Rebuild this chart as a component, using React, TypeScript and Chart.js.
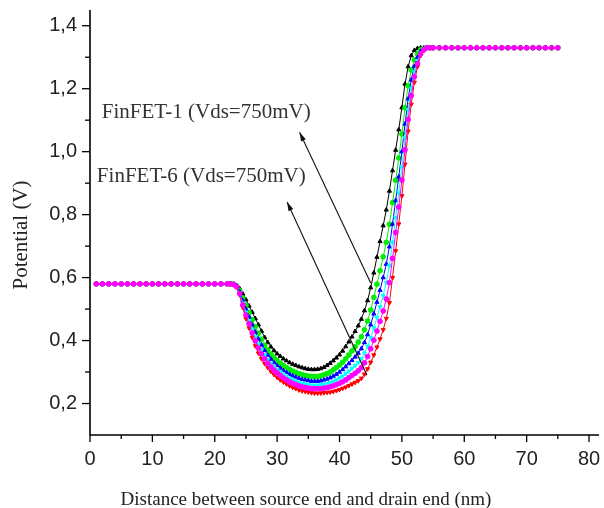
import React, { useEffect, useRef } from "react";
import { Chart, registerables } from "chart.js";

Chart.register(...registerables);

// ---------- data ----------
const seriesNames = ["FinFET-1", "FinFET-2", "FinFET-3", "FinFET-4", "FinFET-5", "FinFET-6"];
const seriesColors = ["#000000", "#00ee00", "#0000ff", "#00ffff", "#ff00ff", "#ff0000"];
const seriesMarkers = ["triangle", "circle", "triangle", "triangle", "circle", "triangle"];
const seriesMarkerRotation = [0, 0, 0, 180, 0, 180];
const seriesDrawOrder = [5, 4, 3, 2, 0, 1];

// distance (nm) – source plateau, channel well, drain plateau
const sourceX = [1, 2, 3, 4, 5, 6, 7, 8, 9, 10, 11, 12, 13, 14, 15, 16, 17, 18, 19, 20, 21, 22];
const wellX = [
  22.5, 23, 23.5, 24, 24.5, 25, 25.5, 26, 26.5, 27,
  27.5, 28, 28.5, 29, 29.5, 30, 30.5, 31, 31.5, 32,
  32.5, 33, 33.5, 34, 34.5, 35, 35.5, 36, 36.5, 37,
  37.5, 38, 38.5, 39, 39.5, 40, 40.5, 41, 41.5, 42,
  42.5, 43, 43.5, 44, 44.5, 45, 45.5, 46, 46.5, 47,
  47.5, 48, 48.5, 49, 49.5, 50, 50.5, 51, 51.5, 52,
  52.5, 53, 53.5, 54, 54.5,
];
const drainX = [55, 56, 57, 58, 59, 60, 61, 62, 63, 64, 65, 66, 67, 68, 69, 70, 71, 72, 73, 74, 75];

const sourceV = [
  0.58, 0.58, 0.58, 0.58, 0.58, 0.58, 0.58, 0.58, 0.58, 0.58, 0.58,
  0.58, 0.58, 0.58, 0.58, 0.58, 0.58, 0.58, 0.58, 0.58, 0.58, 0.58,
];
const drainV = [
  1.33, 1.33, 1.33, 1.33, 1.33, 1.33, 1.33, 1.33, 1.33, 1.33, 1.33,
  1.33, 1.33, 1.33, 1.33, 1.33, 1.33, 1.33, 1.33, 1.33, 1.33,
];

const wellFinFET1 = [
  0.58, 0.58, 0.575, 0.565, 0.548, 0.53, 0.51, 0.49, 0.47, 0.45,
  0.43, 0.41, 0.394, 0.38, 0.368, 0.358, 0.35, 0.342, 0.336, 0.33,
  0.325, 0.321, 0.317, 0.314, 0.311, 0.309, 0.308, 0.308, 0.309, 0.311,
  0.315, 0.321, 0.328, 0.336, 0.345, 0.355, 0.367, 0.381, 0.396, 0.412,
  0.429, 0.447, 0.468, 0.495, 0.527, 0.568, 0.615, 0.665, 0.715, 0.765,
  0.815, 0.875, 0.94, 1.005, 1.07, 1.14, 1.215, 1.27, 1.305, 1.322,
  1.328, 1.33, 1.33, 1.33, 1.33,
];
const wellFinFET2 = [
  0.58, 0.579, 0.574, 0.559, 0.535, 0.512, 0.489, 0.466, 0.444, 0.423,
  0.404, 0.385, 0.37, 0.357, 0.345, 0.336, 0.328, 0.32, 0.314, 0.308,
  0.303, 0.299, 0.295, 0.292, 0.289, 0.287, 0.286, 0.286, 0.286, 0.288,
  0.291, 0.295, 0.3, 0.307, 0.314, 0.322, 0.331, 0.342, 0.354, 0.367,
  0.38, 0.395, 0.412, 0.434, 0.462, 0.497, 0.537, 0.579, 0.622, 0.666,
  0.712, 0.769, 0.838, 0.909, 0.98, 1.056, 1.139, 1.209, 1.259, 1.291,
  1.311, 1.323, 1.328, 1.33, 1.33,
];
const wellFinFET3 = [
  0.58, 0.579, 0.573, 0.555, 0.527, 0.5, 0.475, 0.45, 0.427, 0.405,
  0.386, 0.369, 0.354, 0.341, 0.33, 0.321, 0.313, 0.305, 0.299, 0.293,
  0.288, 0.284, 0.28, 0.277, 0.275, 0.273, 0.271, 0.271, 0.271, 0.272,
  0.275, 0.278, 0.282, 0.287, 0.293, 0.3, 0.308, 0.317, 0.327, 0.337,
  0.348, 0.36, 0.374, 0.394, 0.419, 0.45, 0.485, 0.522, 0.56, 0.6,
  0.643, 0.698, 0.77, 0.845, 0.92, 1.0, 1.088, 1.168, 1.228, 1.271,
  1.299, 1.318, 1.326, 1.33, 1.33,
];
const wellFinFET4 = [
  0.58, 0.579, 0.572, 0.552, 0.519, 0.49, 0.463, 0.436, 0.412, 0.39,
  0.371, 0.354, 0.34, 0.328, 0.317, 0.308, 0.3, 0.292, 0.286, 0.28,
  0.275, 0.271, 0.267, 0.264, 0.262, 0.26, 0.258, 0.258, 0.258, 0.259,
  0.261, 0.263, 0.266, 0.27, 0.275, 0.281, 0.287, 0.295, 0.303, 0.312,
  0.321, 0.33, 0.342, 0.36, 0.382, 0.409, 0.44, 0.473, 0.507, 0.543,
  0.584, 0.637, 0.712, 0.79, 0.869, 0.952, 1.044, 1.133, 1.201, 1.254,
  1.289, 1.313, 1.325, 1.33, 1.33,
];
const wellFinFET5 = [
  0.58, 0.578, 0.571, 0.549, 0.513, 0.481, 0.453, 0.424, 0.399, 0.376,
  0.358, 0.342, 0.328, 0.316, 0.306, 0.297, 0.289, 0.281, 0.275, 0.269,
  0.264, 0.26, 0.256, 0.253, 0.251, 0.249, 0.247, 0.247, 0.247, 0.247,
  0.249, 0.25, 0.253, 0.256, 0.26, 0.264, 0.269, 0.275, 0.282, 0.289,
  0.296, 0.304, 0.314, 0.329, 0.349, 0.374, 0.401, 0.43, 0.461, 0.494,
  0.532, 0.584, 0.661, 0.743, 0.824, 0.91, 1.006, 1.102, 1.178, 1.238,
  1.28, 1.31, 1.323, 1.33, 1.33,
];
const wellFinFET6 = [
  0.58, 0.578, 0.57, 0.545, 0.505, 0.47, 0.44, 0.41, 0.383, 0.36,
  0.342, 0.327, 0.314, 0.302, 0.292, 0.283, 0.275, 0.268, 0.262, 0.256,
  0.251, 0.247, 0.243, 0.24, 0.238, 0.236, 0.234, 0.233, 0.233, 0.233,
  0.234, 0.235, 0.236, 0.238, 0.241, 0.244, 0.248, 0.252, 0.257, 0.262,
  0.267, 0.272, 0.28, 0.293, 0.31, 0.331, 0.354, 0.379, 0.405, 0.434,
  0.47, 0.52, 0.6, 0.685, 0.77, 0.86, 0.96, 1.065, 1.15, 1.22,
  1.27, 1.305, 1.322, 1.33, 1.33,
];
const wellValues = [wellFinFET1, wellFinFET2, wellFinFET3, wellFinFET4, wellFinFET5, wellFinFET6];

// axes
const xTickValues = [0, 10, 20, 30, 40, 50, 60, 70, 80];
const xTickLabels = ["0", "10", "20", "30", "40", "50", "60", "70", "80"];
const yTickValues = [0.2, 0.4, 0.6, 0.8, 1.0, 1.2, 1.4];
const yTickLabels = ["0,2", "0,4", "0,6", "0,8", "1,0", "1,2", "1,4"];
const xMin = 0;
const xMax = 81.6;
const yMin = 0.1;
const yMax = 1.45;
const xTitle = "Distance between source end and drain end (nm)";
const yTitle = "Potential (V)";

// annotations (data units)
const noteTexts = ["FinFET-1 (Vds=750mV)", "FinFET-6 (Vds=750mV)"];
const noteAnchorX = [1.9, 1.1];
const noteAnchorY = [1.126, 0.92];
const arrowHeadX = [33.6, 31.6];
const arrowHeadY = [1.062, 0.84];
const arrowTailX = [45.0, 44.4];
const arrowTailY = [0.583, 0.29];

// ---------- chart ----------
const serifFont = "'Liberation Serif', 'Times New Roman', serif";
const sansFont = "'Liberation Sans', Arial, sans-serif";

const decorPlugin = {
  id: "decor",
  afterDraw(chart: any) {
    const { ctx, chartArea: a, scales } = chart;
    const xs = scales.x;
    const ys = scales.y;
    ctx.save();
    // axis lines
    ctx.strokeStyle = "#000";
    ctx.lineWidth = 1.6;
    ctx.beginPath();
    ctx.moveTo(a.left, a.top);
    ctx.lineTo(a.left, a.bottom);
    ctx.lineTo(a.right, a.bottom);
    ctx.stroke();
    // ticks (major + minor)
    ctx.lineWidth = 1.3;
    for (let i = 0; i <= 16; i++) {
      const px = xs.getPixelForValue(i * 5);
      const len = i % 2 === 0 ? 7 : 4;
      ctx.beginPath();
      ctx.moveTo(px, a.bottom);
      ctx.lineTo(px, a.bottom + len);
      ctx.stroke();
    }
    for (let i = 2; i <= 14; i++) {
      const py = ys.getPixelForValue(i / 10);
      const len = i % 2 === 0 ? 8 : 5;
      ctx.beginPath();
      ctx.moveTo(a.left, py);
      ctx.lineTo(a.left - len, py);
      ctx.stroke();
    }
    // axis titles
    ctx.fillStyle = "#222";
    ctx.font = `19px ${serifFont}`;
    ctx.textAlign = "center";
    ctx.textBaseline = "alphabetic";
    ctx.fillText(xTitle, 306, 505);
    ctx.save();
    ctx.translate(27, 235);
    ctx.rotate(-Math.PI / 2);
    ctx.font = `21px ${serifFont}`;
    ctx.fillText(yTitle, 0, 0);
    ctx.restore();
    // notes
    ctx.font = `21px ${serifFont}`;
    ctx.textAlign = "left";
    ctx.textBaseline = "middle";
    ctx.fillStyle = "#333";
    for (let i = 0; i < noteTexts.length; i++) {
      ctx.fillText(noteTexts[i], xs.getPixelForValue(noteAnchorX[i]), ys.getPixelForValue(noteAnchorY[i]));
    }
    // arrows
    ctx.strokeStyle = "#111";
    ctx.fillStyle = "#111";
    ctx.lineWidth = 1.1;
    for (let i = 0; i < arrowHeadX.length; i++) {
      const hx = xs.getPixelForValue(arrowHeadX[i]);
      const hy = ys.getPixelForValue(arrowHeadY[i]);
      const tx = xs.getPixelForValue(arrowTailX[i]);
      const ty = ys.getPixelForValue(arrowTailY[i]);
      ctx.beginPath();
      ctx.moveTo(tx, ty);
      ctx.lineTo(hx, hy);
      ctx.stroke();
      const ang = Math.atan2(hy - ty, hx - tx);
      const L = 9;
      const W = 2.6;
      const bx = hx - L * Math.cos(ang);
      const by = hy - L * Math.sin(ang);
      ctx.beginPath();
      ctx.moveTo(hx, hy);
      ctx.lineTo(bx + W * Math.sin(ang), by - W * Math.cos(ang));
      ctx.lineTo(bx - W * Math.sin(ang), by + W * Math.cos(ang));
      ctx.closePath();
      ctx.fill();
    }
    ctx.restore();
  },
};

export default function App() {
  const canvasRef = useRef<HTMLCanvasElement | null>(null);

  useEffect(() => {
    if (!canvasRef.current) return;
    const allX = [...sourceX, ...wellX, ...drainX];
    const datasets = seriesNames.map((name, s) => {
      const vals = [...sourceV, ...wellValues[s], ...drainV];
      return {
        label: name,
        data: allX.map((x, i) => ({ x, y: vals[i] })),
        borderColor: seriesColors[s],
        backgroundColor: seriesColors[s],
        borderWidth: 1,
        pointStyle: seriesMarkers[s],
        rotation: seriesMarkerRotation[s],
        pointRadius: 2.4,
        pointBorderWidth: 1,
        pointBackgroundColor: seriesColors[s],
        pointBorderColor: seriesColors[s],
        order: seriesDrawOrder[s],
        tension: 0,
        fill: false,
      };
    });

    const chart = new Chart(canvasRef.current, {
      type: "line",
      data: { datasets },
      options: {
        animation: false,
        responsive: false,
        events: [],
        layout: { padding: { left: 0, top: 10, right: 1, bottom: 0 } },
        plugins: { legend: { display: false }, tooltip: { enabled: false } },
        scales: {
          x: {
            type: "linear",
            min: xMin,
            max: xMax,
            afterFit: (scale: any) => {
              scale.height = 73;
              scale.paddingLeft = 0;
              scale.paddingRight = 0;
              scale.paddingTop = 0;
              scale.paddingBottom = 0;
            },
            afterBuildTicks: (scale: any) => {
              scale.ticks = xTickValues.map((v) => ({ value: v }));
            },
            grid: { display: false, drawTicks: false, tickLength: 0 },
            border: { display: false },
            ticks: {
              autoSkip: false,
              maxRotation: 0,
              padding: 12,
              color: "#222",
              font: { family: sansFont, size: 20 },
              callback: (v: any) => {
                const idx = xTickValues.indexOf(Number(v));
                return idx >= 0 ? xTickLabels[idx] : "";
              },
            },
          },
          y: {
            type: "linear",
            min: yMin,
            max: yMax,
            afterFit: (scale: any) => {
              scale.width = 90;
              scale.paddingLeft = 0;
              scale.paddingRight = 0;
              scale.paddingTop = 0;
              scale.paddingBottom = 0;
            },
            afterBuildTicks: (scale: any) => {
              scale.ticks = yTickValues.map((v) => ({ value: v }));
            },
            grid: { display: false, drawTicks: false, tickLength: 0 },
            border: { display: false },
            ticks: {
              autoSkip: false,
              padding: 13,
              color: "#222",
              font: { family: sansFont, size: 20 },
              callback: (v: any) => {
                const idx = yTickValues.findIndex((t) => Math.abs(t - Number(v)) < 1e-6);
                return idx >= 0 ? yTickLabels[idx] : "";
              },
            },
          },
        },
      },
      plugins: [decorPlugin],
    } as any);

    return () => chart.destroy();
  }, []);

  return (
    <div style={{ position: "absolute", left: 0, top: 0, width: 604, height: 508, background: "#fff" }}>
      <canvas ref={canvasRef} width={604} height={508} />
    </div>
  );
}
